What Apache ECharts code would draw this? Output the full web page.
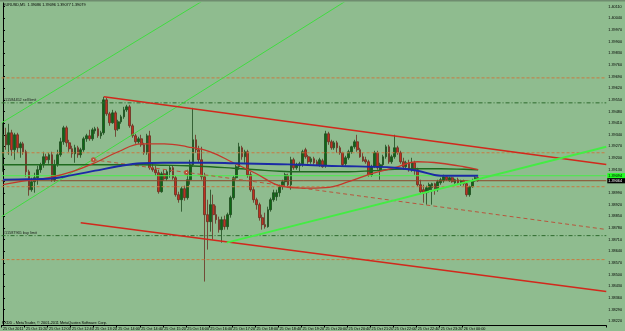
<!DOCTYPE html>
<html><head><meta charset="utf-8">
<script src="https://cdn.jsdelivr.net/npm/echarts@6/dist/echarts.min.js"></script>
<style>html,body{margin:0;padding:0;background:#8fbc8f;overflow:hidden}#c{width:625px;height:331px}</style>
</head><body><div id="c"></div>
<script>
const headerText = 'EURUSD,M5  1.39086 1.39096 1.39077 1.39079';
const footerText = 'FXDD - MetaTrader, \u00a9 2001-2011 MetaQuotes Software Corp.';
const timeLabels = ["25 Oct 2011","25 Oct 11:20","25 Oct 12:00","25 Oct 12:40","25 Oct 13:20","25 Oct 14:00","25 Oct 14:40","25 Oct 15:20","25 Oct 16:00","25 Oct 16:40","25 Oct 17:20","25 Oct 18:00","25 Oct 18:40","25 Oct 19:20","25 Oct 20:00","25 Oct 20:40","25 Oct 21:20","25 Oct 22:00","25 Oct 22:40","25 Oct 23:20","26 Oct 00:00"];
const priceTicks = [1.38220,1.38290,1.38360,1.38430,1.38500,1.38570,1.38640,1.38710,1.38780,1.38850,1.38920,1.38990,1.39060,1.39130,1.39200,1.39270,1.39340,1.39410,1.39480,1.39550,1.39620,1.39690,1.39760,1.39830,1.39900,1.39970,1.40040,1.40110];

const barOpen = [1.39208,1.39340,1.39280,1.39352,1.39250,1.39340,1.39262,1.39286,1.39238,1.39118,
1.39010,1.39058,1.39082,1.39130,1.39160,1.39208,1.39190,1.39220,1.39070,1.39160,
1.39220,1.39298,1.39382,1.39292,1.39256,1.39226,1.39262,1.39220,1.39250,1.39316,
1.39334,1.39316,1.39364,1.39376,1.39334,1.39352,1.39550,1.39466,1.39412,1.39472,
1.39376,1.39418,1.39448,1.39490,1.39508,1.39394,1.39334,1.39298,1.39316,1.39280,
1.39232,1.39334,1.39142,1.39130,1.39112,1.38998,1.39106,1.39076,1.39118,1.39142,
1.39082,1.38980,1.38950,1.39016,1.38962,1.39070,1.39160,1.39310,1.39250,1.39190,
1.39088,1.38860,1.38818,1.38920,1.38860,1.38830,1.38770,1.38830,1.38788,1.38860,
1.38962,1.39082,1.39148,1.39262,1.39208,1.39238,1.39100,1.39010,1.38950,1.38920,
1.38842,1.38800,1.38788,1.38890,1.38950,1.38968,1.38992,1.39028,1.39058,1.39094,
1.39040,1.39190,1.39142,1.39154,1.39166,1.39250,1.39208,1.39178,1.39196,1.39178,
1.39160,1.39184,1.39154,1.39346,1.39298,1.39262,1.39292,1.39262,1.39232,1.39166,
1.39202,1.39238,1.39268,1.39298,1.39250,1.39208,1.39190,1.39178,1.39100,1.39148,
1.39232,1.39130,1.39160,1.39208,1.39268,1.39178,1.39208,1.39262,1.39232,1.39178,
1.39148,1.39172,1.39130,1.39172,1.39130,1.39040,1.39010,1.38992,1.39010,1.39022,
1.39046,1.39010,1.39052,1.39064,1.39088,1.39064,1.39082,1.39052,1.39070,1.39046,
1.39064,1.39046,1.38980,1.39028,1.39064,1.39082];
const barClose = [1.39340,1.39280,1.39352,1.39250,1.39340,1.39262,1.39286,1.39238,1.39118,1.39010,
1.39058,1.39082,1.39130,1.39160,1.39208,1.39190,1.39220,1.39070,1.39160,1.39220,
1.39298,1.39382,1.39292,1.39256,1.39226,1.39262,1.39220,1.39250,1.39316,1.39334,
1.39316,1.39370,1.39376,1.39334,1.39352,1.39550,1.39466,1.39412,1.39472,1.39370,
1.39418,1.39448,1.39490,1.39508,1.39394,1.39334,1.39298,1.39316,1.39280,1.39232,
1.39334,1.39142,1.39130,1.39112,1.38998,1.39106,1.39076,1.39118,1.39142,1.39082,
1.38980,1.38950,1.39016,1.38962,1.39070,1.39160,1.39310,1.39250,1.39190,1.39088,
1.38860,1.38818,1.38920,1.38860,1.38830,1.38770,1.38830,1.38788,1.38860,1.38962,
1.39082,1.39148,1.39268,1.39208,1.39238,1.39100,1.39010,1.38950,1.38920,1.38842,
1.38800,1.38788,1.38890,1.38950,1.38992,1.38992,1.39028,1.39058,1.39100,1.39040,
1.39190,1.39142,1.39160,1.39166,1.39238,1.39208,1.39178,1.39196,1.39172,1.39160,
1.39190,1.39148,1.39346,1.39298,1.39262,1.39292,1.39262,1.39232,1.39160,1.39202,
1.39238,1.39268,1.39298,1.39250,1.39208,1.39184,1.39178,1.39100,1.39148,1.39232,
1.39142,1.39160,1.39208,1.39268,1.39178,1.39208,1.39262,1.39232,1.39178,1.39148,
1.39172,1.39130,1.39172,1.39130,1.39040,1.38998,1.38992,1.39022,1.39040,1.39046,
1.39010,1.39058,1.39070,1.39088,1.39070,1.39082,1.39058,1.39070,1.39052,1.39064,
1.39046,1.38980,1.39028,1.39064,1.39082,1.39064];
const barLow = [1.39118,1.39250,1.39220,1.39214,1.39190,1.39232,1.39202,1.39220,1.39088,1.38974,
1.38998,1.38992,1.39040,1.39112,1.39142,1.39172,1.39166,1.39058,1.39058,1.39148,
1.39208,1.39280,1.39268,1.39238,1.39202,1.39172,1.39202,1.39202,1.39238,1.39298,
1.39304,1.39304,1.39346,1.39322,1.39316,1.39340,1.39454,1.39394,1.39406,1.39328,
1.39364,1.39406,1.39436,1.39478,1.39382,1.39322,1.39286,1.39286,1.39268,1.39220,
1.39220,1.39130,1.39118,1.39094,1.38986,1.38992,1.39064,1.39064,1.39082,1.39070,
1.38968,1.38932,1.38878,1.38944,1.38950,1.39040,1.39148,1.39232,1.39172,1.39070,
1.38458,1.38650,1.38758,1.38710,1.38806,1.38752,1.38692,1.38770,1.38770,1.38842,
1.38950,1.39070,1.39130,1.39190,1.39172,1.39082,1.38998,1.38932,1.38890,1.38824,
1.38770,1.38776,1.38782,1.38878,1.38938,1.38944,1.38968,1.39010,1.39028,1.39022,
1.39010,1.39130,1.39130,1.39118,1.39148,1.39196,1.39166,1.39166,1.39160,1.39154,
1.39148,1.39142,1.39142,1.39280,1.39250,1.39250,1.39232,1.39220,1.39148,1.39154,
1.39190,1.39226,1.39256,1.39238,1.39202,1.39178,1.39166,1.39088,1.39088,1.39142,
1.39130,1.39070,1.39148,1.39196,1.39166,1.39166,1.39196,1.39220,1.39166,1.39130,
1.39136,1.39118,1.39118,1.39100,1.39028,1.38986,1.38932,1.38920,1.38992,1.38920,
1.38980,1.38998,1.39040,1.39052,1.39064,1.39058,1.39052,1.39046,1.39040,1.39034,
1.39034,1.38968,1.38968,1.39022,1.39058,1.39058];
const barHigh = [1.39412,1.39382,1.39406,1.39370,1.39352,1.39352,1.39298,1.39298,1.39250,1.39130,
1.39082,1.39112,1.39154,1.39172,1.39238,1.39226,1.39232,1.39238,1.39190,1.39250,
1.39322,1.39394,1.39394,1.39310,1.39274,1.39280,1.39274,1.39262,1.39328,1.39346,
1.39370,1.39382,1.39388,1.39388,1.39364,1.39568,1.39562,1.39478,1.39490,1.39484,
1.39430,1.39460,1.39508,1.39520,1.39520,1.39406,1.39346,1.39328,1.39340,1.39292,
1.39346,1.39364,1.39166,1.39154,1.39130,1.39118,1.39130,1.39130,1.39154,1.39154,
1.39094,1.38998,1.39028,1.39034,1.39130,1.39190,1.39502,1.39340,1.39274,1.39268,
1.39112,1.38950,1.39010,1.38980,1.38914,1.38848,1.38848,1.38854,1.38872,1.38974,
1.39094,1.39160,1.39292,1.39274,1.39250,1.39250,1.39118,1.39028,1.38962,1.38932,
1.38860,1.38872,1.38908,1.38962,1.39010,1.39010,1.39040,1.39070,1.39112,1.39106,
1.39208,1.39202,1.39172,1.39178,1.39250,1.39262,1.39220,1.39208,1.39208,1.39190,
1.39202,1.39196,1.39364,1.39358,1.39310,1.39304,1.39304,1.39274,1.39238,1.39214,
1.39250,1.39274,1.39310,1.39340,1.39262,1.39232,1.39208,1.39190,1.39160,1.39244,
1.39244,1.39172,1.39220,1.39280,1.39280,1.39220,1.39340,1.39274,1.39244,1.39202,
1.39184,1.39190,1.39202,1.39184,1.39142,1.39070,1.39040,1.39034,1.39052,1.39052,
1.39052,1.39070,1.39082,1.39100,1.39094,1.39088,1.39088,1.39076,1.39082,1.39070,
1.39070,1.39052,1.39034,1.39076,1.39094,1.39088];

const maBars = [0,8,16,24,32,40,48,56,64,72,80,88,96,104,112,120,128,136,144,152,160,165];
const maBlue = [1.39070,1.39073,1.39076,1.39097,1.39124,1.39151,1.39169,1.39172,1.39172,1.39172,1.39169,1.39166,1.39163,1.39160,1.39154,1.39151,1.39148,1.39142,1.39124,1.39094,1.39094,1.39094];
const maGreen = [1.39160,1.39160,1.39160,1.39160,1.39160,1.39160,1.39160,1.39157,1.39154,1.39148,1.39139,1.39130,1.39121,1.39118,1.39118,1.39118,1.39124,1.39133,1.39136,1.39136,1.39133,1.39130];
const maRed = [1.39040,1.39064,1.39082,1.39118,1.39172,1.39238,1.39286,1.39286,1.39268,1.39238,1.39172,1.39106,1.39034,1.39019,1.39022,1.39058,1.39106,1.39142,1.39178,1.39169,1.39148,1.39130];

// trend objects: [bar index, price]
const channelUpper = [[35,1.39568],[209.5,1.39162]];
const channelLower = [[27,1.38812],[209.5,1.38398]];
const channelMid = [[31.4,1.39190],[63.7,1.39114],[209.5,1.38771]];
const trendGreen = [[77.7,1.38692],[209.5,1.39268]];
const fanLine1 = [[-0.5,1.39412],[69.85,1.40150]];
const fanLine2 = [[-0.5,1.38848],[119.6,1.40150]];

const stopLevels = [1.39682,1.39232,1.39028,1.38590];
const sellLimit = 1.39532, sellLimitName = '#11584452 sell limit';
const buyLimit = 1.38734, buyLimitName = '#11587965 buy limit';
const askPrice = 1.39094, bidPrice = 1.39064;

const NBARS = 210;
const categories = [];
for (let i = 0; i < NBARS; i++) {
  const m = 640 + 5 * i, d = 25 + Math.floor(m / 1440), mm = m % 1440;
  categories.push(d + ' Oct ' + String(Math.floor(mm / 60)).padStart(2, '0') + ':' + String(mm % 60).padStart(2, '0'));
}
const candles = barOpen.map((o, i) => [o, barClose[i], barLow[i], barHigh[i]]);

const FONT = 'Liberation Sans';
const FS = 3.8;
const chart = echarts.init(document.getElementById('c'), null, {renderer: 'canvas'});

function seg(data, color, width, type, extra) {
  return Object.assign({
    type: 'line', xAxisIndex: 1, yAxisIndex: 0, data: data, showSymbol: false, symbol: 'none',
    clip: true, silent: true, animation: false, z: 4,
    lineStyle: {color: color, width: width, type: type || 'solid'}
  }, extra || {});
}
const dashOrange = [3, 2];
const dashDot = [4, 2, 1, 2];
const lvlLine = (v, color, type) => seg([[-0.5, v], [209.5, v]], color, 1, type, {z: 3});

chart.setOption({
  animation: false,
  backgroundColor: '#8fbc8f',
  grid: {left: 0, right: 13, top: 3, bottom: 5, containLabel: false},
  xAxis: [{
    type: 'category', data: categories, boundaryGap: true,
    axisLine: {lineStyle: {color: '#000', width: 1}},
    axisTick: {show: true, length: 2, interval: (i) => i % 8 === 0 && i / 8 < timeLabels.length, lineStyle: {color: '#000'}},
    axisLabel: {interval: (i) => i % 8 === 0 && i / 8 < timeLabels.length,
      formatter: (v, i) => timeLabels[i / 8] || '', align: 'left', margin: 1.5,
      fontSize: FS, fontFamily: FONT, color: '#000'},
    splitLine: {show: false}
  }, {
    type: 'value', min: -0.5, max: 209.5, show: false
  }],
  yAxis: [{
    type: 'value', position: 'right', min: 1.38194, max: 1.40132, scale: true,
    axisLine: {show: true, lineStyle: {color: '#000', width: 1}},
    axisTick: {show: true, length: 2, customValues: priceTicks, lineStyle: {color: '#000'}},
    axisLabel: {customValues: priceTicks, formatter: (v) => v.toFixed(5), margin: 2,
      fontSize: FS, fontFamily: FONT, color: '#000'},
    splitLine: {show: false}
  }],
  series: [
    ...stopLevels.map(v => lvlLine(v, '#c87a40', dashOrange)),
    lvlLine(sellLimit, '#2d6a2d', dashDot),
    lvlLine(buyLimit, '#2d6a2d', dashDot),
    lvlLine(askPrice, '#48ee48', 'solid'),
    lvlLine(bidPrice, '#8e4a2a', 'solid'),
    {
      type: 'candlestick', xAxisIndex: 0, yAxisIndex: 0, data: candles, barWidth: 2.2, z: 2,
      itemStyle: {color: '#0d6913', color0: '#c1301f', borderColor: '#1e4a1e', borderColor0: '#6a2e22', borderWidth: 0.8}
    },
    seg(maBars.map((b, i) => [b, maGreen[i]]), '#1f6a1f', 1.3, 'solid', {smooth: 0.4, z: 5}),
    seg(maBars.map((b, i) => [b, maRed[i]]), '#c4382a', 1.3, 'solid', {smooth: 0.4, z: 5}),
    seg(maBars.map((b, i) => [b, maBlue[i]]), '#1b2aa6', 1.8, 'solid', {smooth: 0.4, z: 5}),
    seg(fanLine1, '#40dc40', 1),
    seg(fanLine2, '#40dc40', 1),
    seg(channelUpper, '#d2281c', 1.5),
    seg(channelLower, '#d2281c', 1.5),
    seg(channelMid.map((p, i) => ({value: p, symbol: i < 2 ? 'emptyCircle' : 'none', symbolSize: 3})), '#b8563c', 1, [4, 3],
      {showSymbol: true, itemStyle: {color: '#b8563c', borderColor: '#e0e0d0'}}),
    seg(trendGreen, '#44ec44', 2, 'solid', {z: 6})
  ]
});

// text labels placed through the library's own y scale
const py = (v) => chart.convertToPixel({yAxisIndex: 0}, v);
const axisX = chart.convertToPixel({xAxisIndex: 1}, 209.5);
const font = FS + 'px ' + FONT;
chart.setOption({
  graphic: [
    {type: 'rect', shape: {x: 0, y: 0, width: 625, height: 1.5}, style: {fill: '#6f8c6f'}, z: 10},
    {type: 'text', x: 3, y: 2.5, style: {text: headerText, font: font, fill: '#000'}, z: 10},
    {type: 'text', x: 2, y: 320.5, style: {text: footerText, font: font, fill: '#000'}, z: 10},
    {type: 'text', x: 3, y: py(sellLimit) - 0.8, style: {text: sellLimitName, font: font, fill: '#1a1a1a', textVerticalAlign: 'bottom'}, z: 10},
    {type: 'text', x: 3, y: py(buyLimit) - 0.8, style: {text: buyLimitName, font: font, fill: '#1a1a1a', textVerticalAlign: 'bottom'}, z: 10},
    {type: 'text', x: axisX + 1, y: py(askPrice), style: {text: askPrice.toFixed(5), font: font, fill: '#000', backgroundColor: '#22ff22', padding: [0.6, 3, 0.6, 1], textVerticalAlign: 'middle'}, z: 12},
    {type: 'text', x: axisX + 1, y: py(bidPrice), style: {text: bidPrice.toFixed(5), font: font, fill: '#fff', backgroundColor: '#000', padding: [0.6, 3, 0.6, 1], textVerticalAlign: 'middle'}, z: 12}
  ]
});
</script>
</body></html>
